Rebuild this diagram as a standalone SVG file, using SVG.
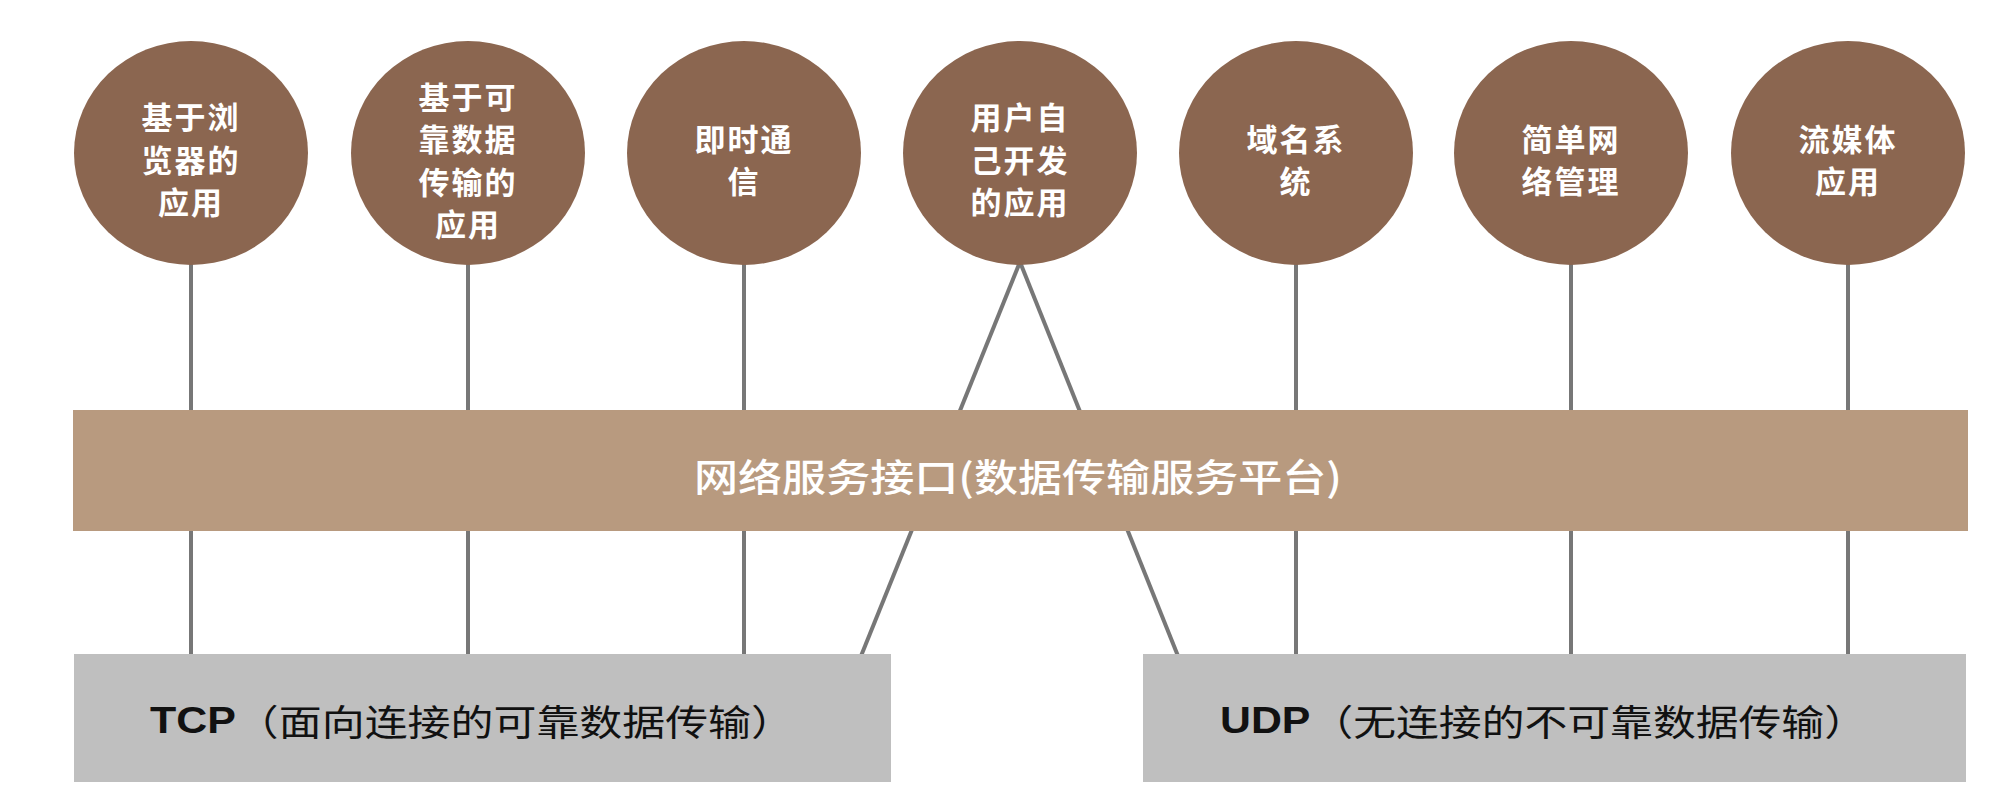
<svg xmlns="http://www.w3.org/2000/svg" width="2000" height="794" viewBox="0 0 2000 794">
<style>
.app{fill:#8b6650}
.ct{fill:#ffffff;font-family:"Noto Sans CJK SC","Noto Sans CJK TC",sans-serif;font-size:31px;font-weight:700;text-anchor:middle;dominant-baseline:central;letter-spacing:2px}
.bar{fill:#b89a7f}
.bt{fill:#ffffff;font-family:"Noto Sans CJK SC",sans-serif;font-size:38px;font-weight:500;text-anchor:middle;dominant-baseline:central}
.proto{fill:#bfbfbf}
.pt{fill:#111111;font-family:"Noto Sans CJK SC",sans-serif;font-size:36px;dominant-baseline:central}
.lat{font-family:"Liberation Sans",Arial,sans-serif;font-weight:700}
.conn line{stroke:#777777;stroke-width:4}
</style>
<rect width="2000" height="794" fill="#ffffff"/>
<g id="connectors" class="conn">
<line x1="191" y1="262" x2="191" y2="656"/>
<line x1="468" y1="262" x2="468" y2="656"/>
<line x1="744" y1="262" x2="744" y2="656"/>
<line x1="1020" y1="262" x2="861" y2="656"/>
<line x1="1020" y1="262" x2="1178" y2="656"/>
<line x1="1296" y1="262" x2="1296" y2="656"/>
<line x1="1571" y1="262" x2="1571" y2="656"/>
<line x1="1848" y1="262" x2="1848" y2="656"/>
</g>
<g id="app1"><ellipse class="app" cx="191" cy="153" rx="117" ry="112"/><text class="ct" x="191"><tspan x="191" y="115">基于浏</tspan><tspan x="191" y="158">览器的</tspan><tspan x="191" y="200">应用</tspan></text></g>
<g id="app2"><ellipse class="app" cx="468" cy="153" rx="117" ry="112"/><text class="ct"><tspan x="468" y="95">基于可</tspan><tspan x="468" y="137">靠数据</tspan><tspan x="468" y="180">传输的</tspan><tspan x="468" y="222">应用</tspan></text></g>
<g id="app3"><ellipse class="app" cx="744" cy="153" rx="117" ry="112"/><text class="ct"><tspan x="744" y="137">即时通</tspan><tspan x="744" y="179">信</tspan></text></g>
<g id="app4"><ellipse class="app" cx="1020" cy="153" rx="117" ry="112"/><text class="ct"><tspan x="1020" y="115">用户自</tspan><tspan x="1020" y="158">己开发</tspan><tspan x="1020" y="200">的应用</tspan></text></g>
<g id="app5"><ellipse class="app" cx="1296" cy="153" rx="117" ry="112"/><text class="ct"><tspan x="1296" y="137">域名系</tspan><tspan x="1296" y="179">统</tspan></text></g>
<g id="app6"><ellipse class="app" cx="1571" cy="153" rx="117" ry="112"/><text class="ct"><tspan x="1571" y="137">简单网</tspan><tspan x="1571" y="179">络管理</tspan></text></g>
<g id="app7"><ellipse class="app" cx="1848" cy="153" rx="117" ry="112"/><text class="ct"><tspan x="1848" y="137">流媒体</tspan><tspan x="1848" y="179">应用</tspan></text></g>
<g id="interface"><rect class="bar" x="73" y="410" width="1895" height="121"/><text class="bt" x="1018" y="474" textLength="648" lengthAdjust="spacingAndGlyphs">网络服务接口(数据传输服务平台)</text></g>
<g id="tcp"><rect class="proto" x="74" y="654" width="817" height="128"/><text class="pt" x="150" y="720" textLength="644" lengthAdjust="spacingAndGlyphs"><tspan class="lat">TCP</tspan>（面向连接的可靠数据传输）</text></g>
<g id="udp"><rect class="proto" x="1143" y="654" width="823" height="128"/><text class="pt" x="1220" y="720" textLength="647" lengthAdjust="spacingAndGlyphs"><tspan class="lat">UDP</tspan>（无连接的不可靠数据传输）</text></g>
</svg>
